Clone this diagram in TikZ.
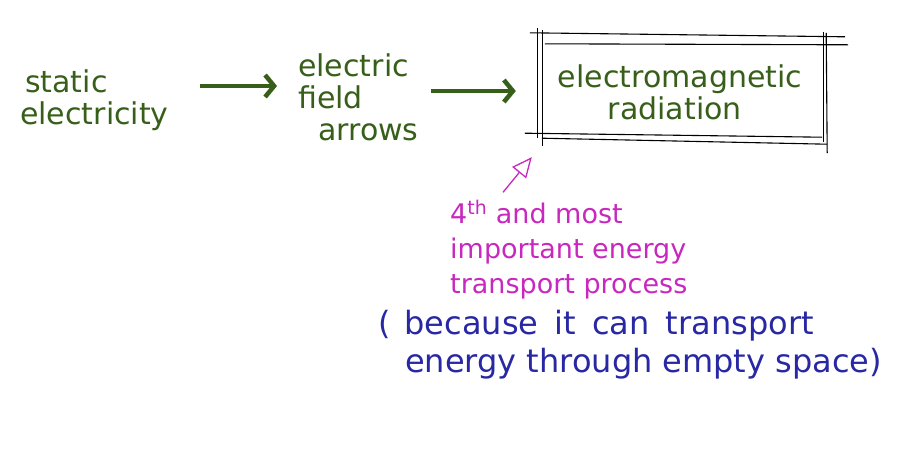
\documentclass[tikz,border=0pt]{standalone}
\usepackage{fontspec}
\setmainfont{DejaVu Sans}
\usetikzlibrary{positioning, arrows.meta}
\definecolor{penGreen}{RGB}{55,95,25}
\definecolor{penMagenta}{RGB}{200,40,190}
\definecolor{penBlue}{RGB}{40,40,165}
\tikzstyle{greentext} = [inner sep=0pt, align=left, text=penGreen, font=\fontsize{30}{32}\selectfont]
\tikzstyle{pinktext} = [inner sep=0pt, align=left, text=penMagenta, font=\fontsize{27}{35}\selectfont]
\tikzstyle{bluetext} = [inner sep=0pt, align=left, text=penBlue, font=\fontsize{32}{38}\selectfont]
\tikzstyle{arrow} = [line width=4.5pt, penGreen, -{Straight Barb[length=9pt,width=22pt]}]
\tikzstyle{pointer} = [line width=1.3pt, penMagenta, -{Triangle[open,length=20pt,width=18pt]}]
\tikzstyle{frameline} = [line width=1.1pt, black]
\begin{document}
\begin{tikzpicture}[x=1pt, y=-1pt]
\useasboundingbox (0,0) rectangle (912,464);
\fill[white] (0,0) rectangle (912,464);

\node (static) [greentext, anchor=west] at (20,100) {\hspace{5pt}static\\electricity};
\node (field) [greentext, anchor=west] at (298,97) {electric\\field\\\hspace{20pt}arrows};
\node (frame) [minimum width=288pt, minimum height=110pt] at (682,89) {};
\node (emrad) [greentext] at (680,92) {electromagnetic\\\hspace{50pt}radiation};

\draw [arrow, shorten <=31pt, shorten >=21pt] ([yshift=14pt]static.east) -- ([yshift=11pt]field.west);
\draw [arrow, shorten <=12pt, shorten >=22pt] ([yshift=6pt]field.east) -- ([yshift=-2pt]frame.west);

% double frame round the box
\draw [frameline] ([xshift=-8pt,yshift=1pt]frame.north west) -- ([xshift=19pt,yshift=-3pt]frame.north east);
\draw [frameline] ([xshift=7pt,yshift=-10pt]frame.north west) -- ([xshift=22pt,yshift=-11pt]frame.north east);
\draw [frameline] ([yshift=6pt]frame.north west) -- ([yshift=6pt]frame.south west);
\draw [frameline] ([xshift=5pt,yshift=4pt]frame.north west) -- ([xshift=5pt,yshift=-2pt]frame.south west);
\draw [frameline] ([xshift=-3pt,yshift=2pt]frame.north east) -- ([xshift=-3pt,yshift=2pt]frame.south east);
\draw [frameline] ([yshift=1pt]frame.north east) -- ([xshift=1pt,yshift=-9pt]frame.south east);
\draw [frameline] ([xshift=-13pt,yshift=11pt]frame.south west) -- ([xshift=-4pt,yshift=7pt]frame.south east);
\draw [frameline] ([xshift=4pt,yshift=6pt]frame.south west) -- ([xshift=1pt]frame.south east);

\node (fourth) [pinktext, anchor=west] at (450,250) {4\textsuperscript{th} and most\\important energy\\transport process};
\draw [pointer] ([xshift=53pt,yshift=8pt]fourth.north west) -- ([xshift=-6pt,yshift=-13pt]frame.south west);

\node (because) [bluetext, anchor=west] at (378,345) {(\hspace{14pt}because\hspace{6pt} it\hspace{6pt} can\hspace{6pt} transport\\\hspace{27pt}energy through empty space)};
\end{tikzpicture}
\end{document}
